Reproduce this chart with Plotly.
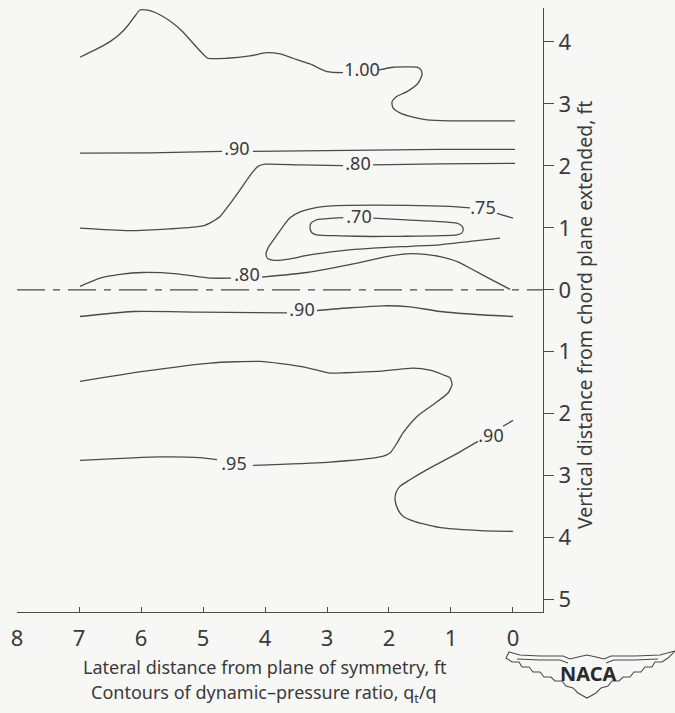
import plotly.graph_objects as go

# ---------------- data (ft) ----------------
x_ticks = [0, 1, 2, 3, 4, 5, 6, 7, 8]
x_ticktext = ["0", "1", "2", "3", "4", "5", "6", "7", "8"]
y_ticks = [4, 3, 2, 1, 0, -1, -2, -3, -4, -5]
y_ticktext = ["4", "3", "2", "1", "0", "1", "2", "3", "4", "5"]

c100a_x = [6.984, 6.742, 6.5, 6.306, 6.205, 6.097, 6.016, 5.855, 5.661, 5.484, 5.323, 5.161, 5.016, 4.919, 4.613, 4.242, 3.968, 3.758, 3.548, 3.274, 3.0, 2.742]
c100a_y = [3.753, 3.871, 4.005, 4.161, 4.274, 4.419, 4.516, 4.505, 4.419, 4.302, 4.161, 3.979, 3.823, 3.737, 3.737, 3.774, 3.827, 3.806, 3.737, 3.645, 3.521, 3.505]
c100b_x = [2.161, 1.935, 1.661, 1.548, 1.484, 1.468, 1.532, 1.710, 1.887, 1.952, 1.935, 1.823, 1.629, 1.387, 1.016, 0.532, -0.032]
c100b_y = [3.548, 3.592, 3.597, 3.592, 3.548, 3.468, 3.334, 3.198, 3.113, 3.032, 2.935, 2.855, 2.790, 2.742, 2.726, 2.726, 2.726]

c90u_a_x = [6.984, 5.855, 4.694]
c90u_a_y = [2.205, 2.210, 2.234]
c90u_b_x = [4.194, 2.629, 1.177, -0.032]
c90u_b_y = [2.234, 2.250, 2.266, 2.266]

c80u_a_x = [6.984, 6.226, 5.532, 5.0, 4.855, 4.726, 4.565, 4.403, 4.210, 4.113, 4.0, 3.435, 2.742]
c80u_a_y = [0.995, 0.956, 0.984, 1.032, 1.097, 1.182, 1.387, 1.613, 1.887, 1.992, 2.027, 2.016, 2.005]
c80u_b_x = [2.258, 1.177, -0.032]
c80u_b_y = [2.016, 2.032, 2.040]

c75a_x = [0.0, 0.258]
c75a_y = [1.156, 1.234]
c75b_x = [0.694, 1.016, 1.710, 2.903, 3.194, 3.435, 3.597, 3.710, 3.839, 3.952, 3.984, 3.952, 3.855, 3.597, 3.323, 2.790, 2.258, 1.661, 1.177, 0.694, 0.210]
c75b_y = [1.323, 1.347, 1.363, 1.355, 1.323, 1.258, 1.161, 1.021, 0.839, 0.673, 0.565, 0.5, 0.476, 0.5, 0.556, 0.629, 0.673, 0.702, 0.726, 0.782, 0.834]

c70_x = [2.253, 1.715, 0.908, 0.827, 0.802, 0.827, 0.908, 1.823, 2.253, 2.790, 3.166, 3.247, 3.274, 3.258, 3.194, 3.113, 2.737]
c70_y = [1.156, 1.129, 1.076, 1.032, 0.979, 0.915, 0.887, 0.863, 0.860, 0.871, 0.887, 0.924, 0.995, 1.076, 1.118, 1.140, 1.166]

c80l_a_x = [6.984, 6.661, 6.339, 5.968, 5.419, 4.887, 4.548]
c80l_a_y = [0.056, 0.189, 0.250, 0.279, 0.258, 0.189, 0.189]
c80l_b_x = [4.048, 3.323, 2.516, 2.065, 1.710, 1.419, 1.177, 0.887, 0.645, 0.371, 0.048]
c80l_b_y = [0.205, 0.279, 0.431, 0.532, 0.581, 0.573, 0.537, 0.452, 0.323, 0.177, 0.008]

c90l_a_x = [6.984, 6.129, 5.048, 3.645]
c90l_a_y = [-0.431, -0.350, -0.360, -0.371]
c90l_b_x = [3.161, 2.629, 2.097, 1.661, 1.177, 0.532, 0.0]
c90l_b_y = [-0.334, -0.290, -0.258, -0.274, -0.350, -0.403, -0.431]

c95a_x = [6.984, 5.694, 5.048, 4.774]
c95a_y = [-2.753, -2.698, -2.710, -2.742]
c95b_x = [4.194, 3.0, 2.145, 1.984, 1.871, 1.774, 1.548, 1.290, 1.048, 0.984, 1.016, 1.129, 1.339, 1.613, 2.194, 2.710, 2.952, 3.194, 3.435, 4.081, 4.887, 5.968, 6.984]
c95b_y = [-2.834, -2.785, -2.698, -2.634, -2.473, -2.311, -2.044, -1.855, -1.666, -1.532, -1.419, -1.371, -1.298, -1.263, -1.318, -1.339, -1.344, -1.290, -1.237, -1.156, -1.182, -1.318, -1.479]

c90r_a_x = [0.0, 0.161]
c90r_a_y = [-2.108, -2.202]
c90r_b_x = [0.565, 0.935, 1.387, 1.661, 1.823, 1.887, 1.903, 1.855, 1.774, 1.581, 1.129, 0.532, 0.0]
c90r_b_y = [-2.447, -2.661, -2.903, -3.065, -3.173, -3.274, -3.387, -3.548, -3.656, -3.742, -3.844, -3.887, -3.898]

chord_x = [8.0, -0.484]
chord_y = [0.0, 0.0]

label_text = ["1.00", ".90", ".80", ".75", ".70", ".80", ".90", ".95", ".90"]
label_x = [2.435, 4.452, 2.5, 0.484, 2.484, 4.29, 3.403, 4.5, 0.355]
label_y = [3.516, 2.242, 2.0, 1.290, 1.145, 0.210, -0.350, -2.839, -2.379]

# ---------------- styling ----------------
INK = "#4a4a4a"
TXT = "#3a3a3a"
BG = "#f7f7f6"
FONT = "Noto Sans"

fig = go.Figure()

segments = [
    (c100a_x, c100a_y), (c100b_x, c100b_y),
    (c90u_a_x, c90u_a_y), (c90u_b_x, c90u_b_y),
    (c80u_a_x, c80u_a_y), (c80u_b_x, c80u_b_y),
    (c75a_x, c75a_y), (c75b_x, c75b_y),
    (c70_x, c70_y),
    (c80l_a_x, c80l_a_y), (c80l_b_x, c80l_b_y),
    (c90l_a_x, c90l_a_y), (c90l_b_x, c90l_b_y),
    (c95a_x, c95a_y), (c95b_x, c95b_y),
    (c90r_a_x, c90r_a_y), (c90r_b_x, c90r_b_y),
]
for sx, sy in segments:
    fig.add_trace(go.Scatter(x=sx, y=sy, mode="lines",
                             line=dict(color=INK, width=1.3, shape="spline", smoothing=0.6),
                             hoverinfo="skip", showlegend=False))

fig.add_trace(go.Scatter(x=chord_x, y=chord_y, mode="lines",
                         line=dict(color=INK, width=1.3, dash="28px,8px,7px,8px"),
                         hoverinfo="skip", showlegend=False))

fig.add_trace(go.Scatter(x=label_x, y=label_y, mode="text", text=label_text,
                         textfont=dict(family=FONT, size=18, color=TXT),
                         textposition="middle center", hoverinfo="skip", showlegend=False))

# ---------------- layout ----------------
L, R, T, B = 17, 132, 8, 101
W, H = 675, 713
PW, PH = W - L - R, H - T - B


def px(xp):
    return (xp - L) / PW


def py(yp):
    return (H - B - yp) / PH


fig.update_layout(
    width=W, height=H,
    margin=dict(l=L, r=R, t=T, b=B, pad=0),
    paper_bgcolor=BG, plot_bgcolor=BG,
    showlegend=False,
    font=dict(family=FONT, color=TXT),
    xaxis=dict(range=[8.0, -0.484], showgrid=False, zeroline=False,
               showline=True, linecolor=INK, linewidth=1.3,
               ticks="inside", ticklen=5, tickwidth=1.2, tickcolor=INK,
               tickvals=x_ticks, ticktext=x_ticktext,
               tickfont=dict(family=FONT, size=22, color=TXT),
               ticklabelstandoff=6),
    yaxis=dict(range=[-5.2, 4.548], side="right", showgrid=False, zeroline=False,
               showline=True, linecolor=INK, linewidth=1.3,
               ticks="outside", ticklen=10, tickwidth=1.2, tickcolor=INK,
               tickvals=y_ticks, ticktext=y_ticktext,
               tickfont=dict(family=FONT, size=22, color=TXT)),
)

annotations = [
    dict(text="Lateral distance from plane of symmetry, ft", x=px(265), y=py(667),
         font=dict(size=18)),
    dict(text="Contours of dynamic\u2013pressure ratio, q<sub>t</sub>/q", x=px(264), y=py(693),
         font=dict(size=18)),
    dict(text="Vertical distance from chord plane extended, ft", x=px(584), y=py(315),
         textangle=-90, font=dict(size=19.5)),
    dict(text="<b>NACA</b>", x=px(588), y=py(673), font=dict(size=20, color="#2a2a2a")),
]
for a in annotations:
    a.update(xref="paper", yref="paper", showarrow=False, xanchor="center", yanchor="middle")
    a["font"].update(family=FONT, color=a["font"].get("color", TXT))
fig.update_layout(annotations=annotations)

# NACA wing emblem (pixel outline converted to paper coords)
wing_outer = [(509, 652), (520, 655), (540, 656), (563, 656), (570, 659), (578, 657), (587, 655),
              (596, 657), (604, 659), (611, 656), (635, 656), (660, 655), (675, 651),
              (668, 658), (662, 662), (655, 662), (652, 667), (645, 667), (641, 672), (634, 672),
              (630, 677), (623, 677), (619, 681), (612, 681), (608, 686), (601, 688), (596, 693),
              (587, 698), (578, 693), (573, 688), (566, 686), (562, 681), (555, 681), (551, 677),
              (544, 677), (540, 672), (533, 672), (529, 667), (522, 667), (519, 662), (512, 662),
              (506, 658), (509, 652)]
wing_inner = [(517, 659), (540, 660), (560, 660), (568, 663)]
wing_inner2 = [(606, 663), (614, 660), (635, 660), (658, 659)]


def to_path(pts, close):
    s = "M " + " L ".join(f"{px(a):.4f},{py(b):.4f}" for a, b in pts)
    return s + (" Z" if close else "")


for pts, close in [(wing_outer, True), (wing_inner, False), (wing_inner2, False)]:
    fig.add_shape(type="path", path=to_path(pts, close), xref="paper", yref="paper",
                  line=dict(color=INK, width=1.1), fillcolor="rgba(0,0,0,0)")

fig.write_html(
    "out.html",
    config={"displayModeBar": False},
    post_script=("document.documentElement.style.margin='0';"
                 "document.body.style.margin='0';document.body.style.padding='0';"
                 "document.body.style.background='" + BG + "';"
                 "document.documentElement.style.background='" + BG + "';"),
)
